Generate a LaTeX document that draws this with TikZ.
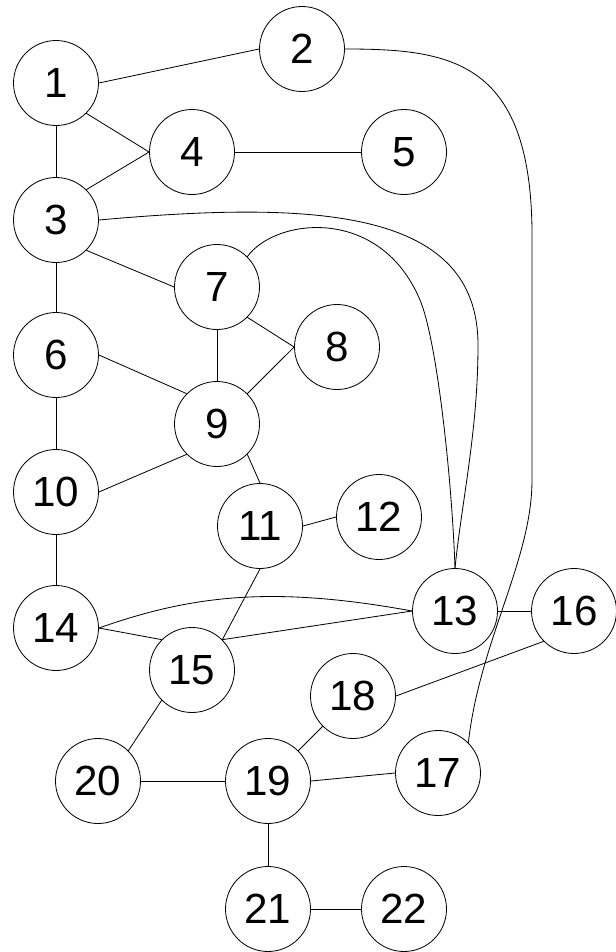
\documentclass[tikz,border=0pt]{standalone}
\usepackage{fontspec}
\setmainfont{Liberation Sans}
\usepackage{tikz}

\tikzset{
    vertex/.style={draw, circle, minimum size=2.55cm, inner sep=0pt,
        line width=0.7pt, font=\fontsize{36}{40}\selectfont},
    link/.style={line width=0.7pt}
}

\begin{document}
\begin{tikzpicture}[x=0.03cm, y=-0.03cm]

\useasboundingbox (0,0) rectangle (615,952);

% Vertices
\node[vertex] (n1) at (56,83) {1};
\node[vertex] (n2) at (302,49) {2};
\node[vertex] (n3) at (56,220) {3};
\node[vertex] (n4) at (192,152) {4};
\node[vertex] (n5) at (404,152) {5};
\node[vertex] (n6) at (56,355) {6};
\node[vertex] (n7) at (217,287) {7};
\node[vertex] (n8) at (337,347) {8};
\node[vertex] (n9) at (217,424) {9};
\node[vertex] (n10) at (56,492) {10};
\node[vertex] (n11) at (260,526) {11};
\node[vertex] (n12) at (379,517) {12};
\node[vertex] (n13) at (455,611) {13};
\node[vertex] (n14) at (56,628) {14};
\node[vertex] (n15) at (192,670) {15};
\node[vertex] (n16) at (574,611) {16};
\node[vertex] (n17) at (438,773) {17};
\node[vertex] (n18) at (353,696) {18};
\node[vertex] (n19) at (268,781) {19};
\node[vertex] (n20) at (98,781) {20};
\node[vertex] (n21) at (268,909) {21};
\node[vertex] (n22) at (404,909) {22};

% Straight edges
\draw[link] (n1.east) -- (n2.west);
\draw[link] (n1.south) -- (n3.north);
\draw[link] (n1.south east) -- (n4.west);
\draw[link] (n3.north east) -- (n4.west);
\draw[link] (n4.east) -- (n5.west);
\draw[link] (n3.south east) -- (n7.west);
\draw[link] (n3.south) -- (n6.north);
\draw[link] (n7.south) -- (n9.north);
\draw[link] (n7.south east) -- (n8.west);
\draw[link] (n9.north east) -- (n8.west);
\draw[link] (n6.east) -- (n9.north west);
\draw[link] (n6.south) -- (n10.north);
\draw[link] (n10.east) -- (n9.south west);
\draw[link] (n9.south east) -- (n11.north);
\draw[link] (n11.east) -- (n12.west);
\draw[link] (n11.south) -- (n15.north east);
\draw[link] (n10.south) -- (n14.north);
\draw[link] (n14.east) -- (n15.north west);
\draw[link] (n15.north east) -- (n13.west);
\draw[link] (n13.east) -- (n16.west);
\draw[link] (n18.east) -- (n16.south west);
\draw[link] (n15.south west) -- (n20.north east);
\draw[link] (n20.east) -- (n19.west);
\draw[link] (n19.north east) -- (n18.south west);
\draw[link] (n19.east) -- (n17.west);
\draw[link] (n19.south) -- (n21.north);
\draw[link] (n21.east) -- (n22.west);

% Curved edges
\draw[link] (n3.east) .. controls (320,200) and (478,210) .. (478,345)
    .. controls (478,430) and (462,500) .. (n13.north);
\draw[link] (n7.north east) .. controls (275,218) and (380,205) .. (420,300)
    .. controls (437,340) and (452,480) .. (n13.north);
\draw[link] (n14.east) .. controls (190,596) and (270,585) .. (n13.west);
\draw[link] (n2.east) .. controls (450,49) and (530,60) .. (532,230)
    -- (532,480) .. controls (532,560) and (480,640) .. (n17.north east);

\end{tikzpicture}
\end{document}
